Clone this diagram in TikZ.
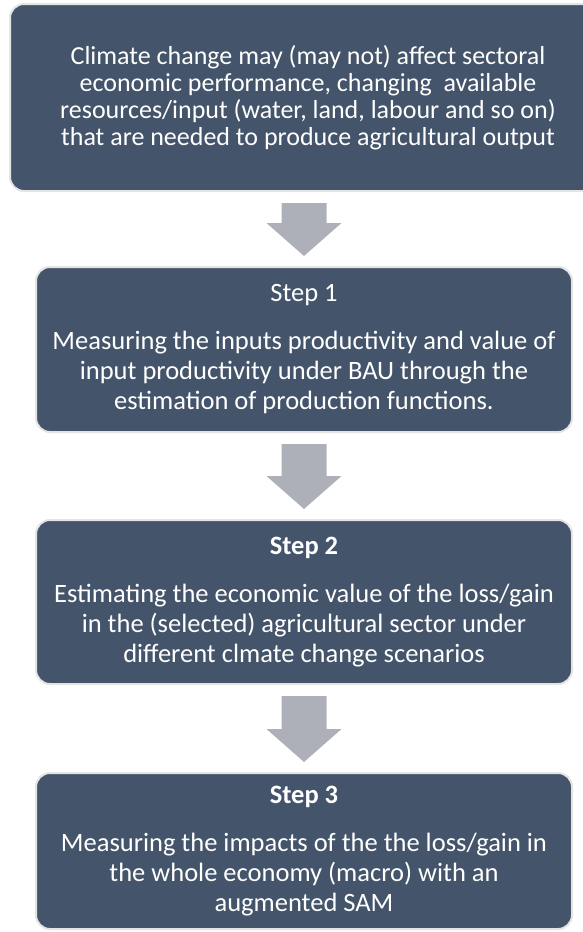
\documentclass[tikz,border=0pt]{standalone}
\usepackage{fontspec}
\setmainfont{Carlito}
\usetikzlibrary{calc}
\definecolor{boxfill}{HTML}{44546A}
\definecolor{boxline}{HTML}{E4E4E4}
\definecolor{arrfill}{HTML}{ADB0B8}
\tikzset{
  flowbox/.style={draw=boxline, line width=2pt, fill=boxfill, rounded corners=14pt,
    text=white, align=center, inner sep=0pt},
  arrowfill/.style={fill=arrfill, draw=none},
  bodytext/.style={font=\fontsize{26.5}{30}\selectfont},
}
\newcommand{\blockarr}[2]{%
  \path let \p1=(#1.south), \p2=(#2.north) in
    [arrowfill] (\x2-22.5pt,\y1-11pt) -- (\x2+22.5pt,\y1-11pt)
    -- (\x2+22.5pt,\y2+43pt) -- (\x2+37.5pt,\y2+43pt)
    -- (\x2,\y2+10pt) -- (\x2-37.5pt,\y2+43pt)
    -- (\x2-22.5pt,\y2+43pt) -- cycle;}
\begin{document}
\begin{tikzpicture}[x=1pt,y=-1pt]
\useasboundingbox (0,0) rectangle (583,932);
\clip (0,0) rectangle (583,932);
\node[flowbox, minimum width=596pt, minimum height=187pt,
  font=\fontsize{26}{27}\selectfont] (b1) at (308,97.5)
  {Climate change may (may not) affect sectoral\\
   economic performance, changing\ \ available\\
   resources/input (water, land, labour and so on)\\
   that are needed to produce agricultural output};
\node[flowbox, bodytext, minimum width=536pt, minimum height=165pt] (b2) at (304,349.5)
  {Step 1\\[18pt]
   Measuring the inputs productivity and value of\\
   input productivity under BAU through the\\
   estimation of production functions.};
\node[flowbox, bodytext, minimum width=536pt, minimum height=164pt] (b3) at (304,602)
  {\textbf{Step 2}\\[18pt]
   Estimating the economic value of the loss/gain\\
   in the (selected) agricultural sector under\\
   different clmate change scenarios};
\node[flowbox, bodytext, minimum width=536pt, minimum height=156pt] (b4) at (304,851)
  {\textbf{Step 3}\\[18pt]
   Measuring the impacts of the the loss/gain in\\
   the whole economy (macro) with an\\
   augmented SAM};
\blockarr{b1}{b2}
\blockarr{b2}{b3}
\blockarr{b3}{b4}
\end{tikzpicture}
\end{document}
